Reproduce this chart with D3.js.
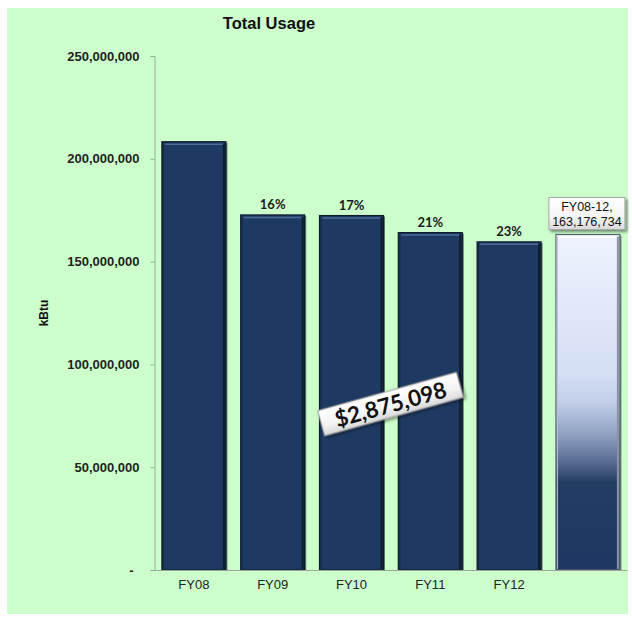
<!DOCTYPE html>
<html>
<head>
<meta charset="utf-8">
<script src="https://cdn.jsdelivr.net/npm/d3@7"></script>
<style>
  html, body { margin: 0; padding: 0; background: #ffffff; }
  svg { display: block; }
</style>
</head>
<body>
<svg id="chart" width="632" height="621"></svg>
<script>
// ---- data ----
const categories = ["FY08", "FY09", "FY10", "FY11", "FY12", "FY08-12"];
const xLabels = ["FY08", "FY09", "FY10", "FY11", "FY12", ""];
const usage = [208300000, 172700000, 172400000, 164100000, 159600000, 163176734];
const pctLabels = ["", "16%", "17%", "21%", "23%", ""];
const yTicks = [0, 50000000, 100000000, 150000000, 200000000, 250000000];
const totalLabel = ["FY08-12,", "163,176,734"];
const savingsLabel = "$2,875,098";
const titleText = "Total Usage";
const yTitle = "kBtu";

// ---- layout ----
const svg = d3.select("#chart");
const plot = { left: 154.5, right: 627.3, top: 56, bottom: 570 };

svg.append("rect").attr("x", 7).attr("y", 8).attr("width", 621).attr("height", 606).attr("fill", "#ccffcc");

const defs = svg.append("defs");
const lg = defs.append("linearGradient").attr("id", "lastGrad").attr("x1", 0).attr("y1", 0).attr("x2", 0).attr("y2", 1);
[[0, "#eef3fd"], [0.42, "#d3ddf4"], [0.5, "#c2cee8"], [0.6, "#8e9fc0"], [0.68, "#566b90"], [0.74, "#233c64"], [1, "#1f3863"]]
  .forEach(([o, c]) => lg.append("stop").attr("offset", o).attr("stop-color", c));
const bg = defs.append("linearGradient").attr("id", "boxGrad").attr("x1", 0).attr("y1", 0).attr("x2", 0).attr("y2", 1);
[[0, "#ffffff"], [0.6, "#f4f4f4"], [1, "#d9d9d9"]].forEach(([o, c]) => bg.append("stop").attr("offset", o).attr("stop-color", c));
const sh = defs.append("filter").attr("id", "shadow").attr("x", "-20%").attr("y", "-40%").attr("width", "140%").attr("height", "180%");
sh.append("feDropShadow").attr("dx", 2).attr("dy", 2).attr("stdDeviation", 1.5).attr("flood-color", "#000").attr("flood-opacity", 0.45);

const x = d3.scaleBand().domain(categories).range([plot.left, plot.right]).paddingInner(0.188).paddingOuter(0.094);
const y = d3.scaleLinear().domain([0, 250000000]).range([plot.bottom, plot.top]);

// title
svg.append("text").attr("x", 269).attr("y", 29).attr("text-anchor", "middle")
  .attr("font-family", "Liberation Sans, Arial, sans-serif").attr("font-weight", "bold").attr("font-size", 16.5)
  .attr("fill", "#111").text(titleText);

// y axis
const fmt = d3.format(",");
const yAxis = svg.append("g").attr("transform", `translate(${plot.left},0)`)
  .call(d3.axisLeft(y).tickValues(yTicks).tickSize(4).tickPadding(11).tickFormat(d => d === 0 ? "-" : fmt(d)));
yAxis.select(".domain").attr("stroke", "#9aa89a");
yAxis.selectAll(".tick line").attr("stroke", "#9aa89a");
yAxis.selectAll(".tick text").attr("font-family", "Liberation Sans, Arial, sans-serif").attr("font-weight", "bold")
  .attr("font-size", 13).attr("fill", "#1f1f1f");
yAxis.selectAll(".tick").filter(d => d === 0).select("text").attr("dx", -6);

svg.append("text").attr("transform", `translate(48,313) rotate(-90)`)
  .attr("text-anchor", "middle").attr("font-family", "Liberation Sans, Arial, sans-serif").attr("font-weight", "bold")
  .attr("font-size", 12).attr("fill", "#111").text(yTitle);

// bars
const bars = svg.append("g");
categories.forEach((c, i) => {
  const bx = x(c), bw = x.bandwidth(), by = y(usage[i]), bh = y(0) - y(usage[i]);
  const last = i === categories.length - 1;
  const g = bars.append("g");
  g.append("rect").attr("x", bx + 1.5).attr("y", by + 1).attr("width", bw).attr("height", bh - 1)
    .attr("fill", "#0c1422").attr("opacity", 0.55);
  g.append("rect").attr("x", bx).attr("y", by).attr("width", bw).attr("height", bh)
    .attr("fill", last ? "url(#lastGrad)" : "#1f3a62").attr("stroke", last ? "#5d6675" : "#0e1a2c").attr("stroke-width", 1.2);
  g.append("line").attr("x1", bx + 3).attr("x2", bx + bw - 3).attr("y1", by + 2.5).attr("y2", by + 2.5)
    .attr("stroke", last ? "#ffffff" : "#4d6d98").attr("stroke-width", 1.5);
  g.append("line").attr("x1", bx + bw - 2).attr("x2", bx + bw - 2).attr("y1", by + 2).attr("y2", by + bh - 1)
    .attr("stroke", last ? "#8a93a3" : "#101c2e").attr("stroke-width", 2);
  g.append("line").attr("x1", bx + 1.5).attr("x2", bx + 1.5).attr("y1", by + 2).attr("y2", by + bh - 1)
    .attr("stroke", last ? "#b9c2d2" : "#16283f").attr("stroke-width", 1);
  if (pctLabels[i]) {
    svg.append("text").attr("x", bx + bw / 2).attr("y", by - 6).attr("text-anchor", "middle")
      .attr("font-family", "Lato, sans-serif").attr("font-weight", "bold").attr("font-size", 13)
      .attr("fill", "#1a1a1a").text(pctLabels[i]);
  }
});

// x axis
const xAxis = svg.append("g").attr("transform", `translate(0,${plot.bottom})`)
  .call(d3.axisBottom(x).tickSize(0).tickPadding(10).tickFormat((d, i) => xLabels[i]));
xAxis.select(".domain").attr("stroke", "#9aa89a").attr("d", `M${plot.left},0.5H${plot.right}`);
xAxis.selectAll(".tick text").attr("font-family", "Liberation Sans, Arial, sans-serif").attr("font-size", 13).attr("fill", "#222");

// FY08-12 label box
const lastCat = categories[categories.length - 1];
const cx = x(lastCat) + x.bandwidth() / 2;
const lbTop = y(usage[usage.length - 1]) - 37;
svg.append("rect").attr("x", cx - 39).attr("y", lbTop).attr("width", 76).attr("height", 32)
  .attr("fill", "url(#boxGrad)").attr("stroke", "#a8a8a8").attr("stroke-width", 1).attr("filter", "url(#shadow)");
totalLabel.forEach((t, k) => {
  svg.append("text").attr("x", cx - 1).attr("y", lbTop + 13.5 + k * 15).attr("text-anchor", "middle")
    .attr("font-family", "Liberation Sans, Arial, sans-serif").attr("font-size", 12.5).attr("fill", "#111").text(t);
});

// savings callout
const sg = svg.append("g").attr("transform", "translate(390.5,404) rotate(-15.5)");
sg.append("rect").attr("x", -72).attr("y", -13).attr("width", 144).attr("height", 26)
  .attr("fill", "url(#boxGrad)").attr("stroke", "#9a9a9a").attr("stroke-width", 1).attr("filter", "url(#shadow)");
sg.append("text").attr("x", 0).attr("y", 8.5).attr("text-anchor", "middle")
  .attr("font-family", "Lato, sans-serif").attr("font-weight", "bold").attr("font-size", 22.5).attr("fill", "#111").text(savingsLabel);
</script>
</body>
</html>
